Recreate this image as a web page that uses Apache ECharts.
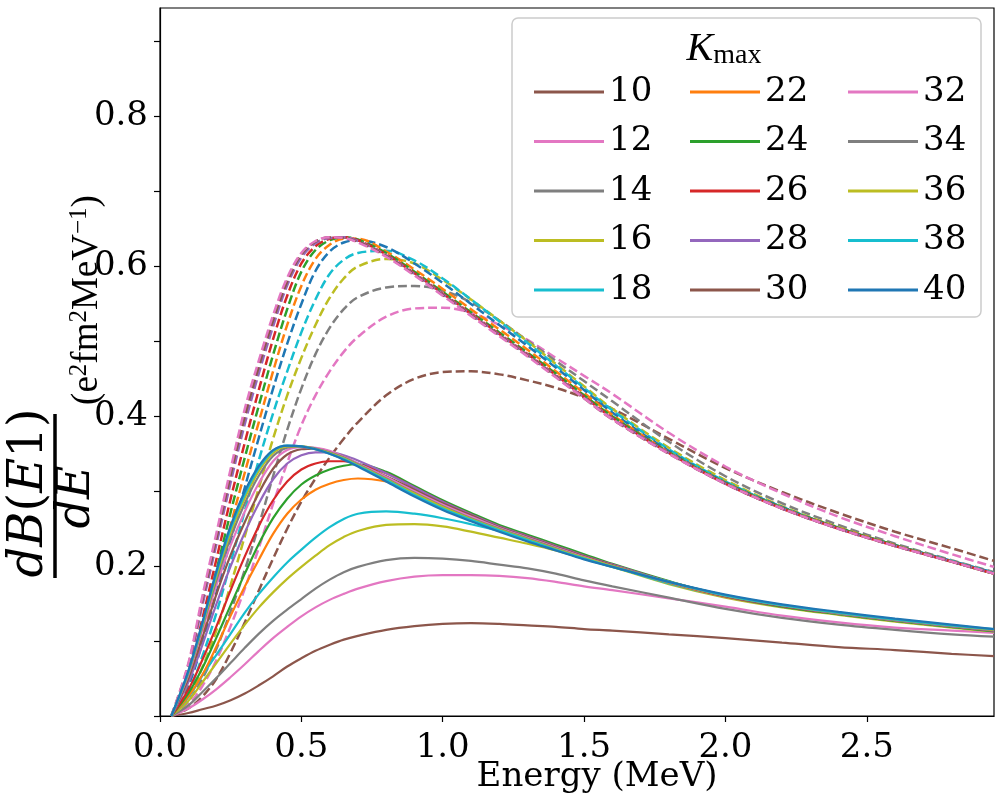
<!DOCTYPE html>
<html>
<head>
<meta charset="utf-8">
<script src="https://cdn.jsdelivr.net/npm/echarts@6/dist/echarts.min.js"></script>
<style>
html,body{margin:0;padding:0;background:#fff;}
#chart{width:997px;height:796px;}
</style>
</head>
<body>
<div id="chart"></div>
<script>
// ---------- data ----------
const energy = [0.04, 0.1, 0.15, 0.2, 0.25, 0.3, 0.35, 0.4, 0.45, 0.5, 0.55, 0.6, 0.65, 0.7, 0.8, 0.9, 1.0, 1.1, 1.2, 1.3, 1.4, 1.5, 1.6, 1.8, 2.0, 2.2, 2.4, 2.6, 2.8, 2.95];

// solid curves (legend entries)
const solid10 = [0, 0.004, 0.009, 0.014, 0.021, 0.030, 0.041, 0.053, 0.066, 0.077, 0.087, 0.095, 0.102, 0.107, 0.115, 0.120, 0.123, 0.124, 0.123, 0.121, 0.119, 0.116, 0.114, 0.109, 0.104, 0.098, 0.092, 0.088, 0.083, 0.080];
const solid12 = [0, 0.010, 0.022, 0.036, 0.052, 0.069, 0.087, 0.104, 0.119, 0.133, 0.145, 0.155, 0.163, 0.170, 0.180, 0.186, 0.188, 0.188, 0.187, 0.184, 0.179, 0.173, 0.168, 0.157, 0.146, 0.134, 0.125, 0.118, 0.114, 0.111];
const solid14 = [0, 0.014, 0.032, 0.051, 0.071, 0.091, 0.110, 0.127, 0.142, 0.156, 0.170, 0.182, 0.192, 0.199, 0.208, 0.211, 0.210, 0.207, 0.202, 0.197, 0.190, 0.181, 0.173, 0.158, 0.143, 0.131, 0.122, 0.115, 0.109, 0.106];
const solid16 = [0, 0.020, 0.045, 0.071, 0.097, 0.122, 0.145, 0.165, 0.183, 0.199, 0.214, 0.228, 0.239, 0.247, 0.255, 0.256, 0.253, 0.246, 0.238, 0.230, 0.221, 0.210, 0.199, 0.176, 0.158, 0.145, 0.135, 0.126, 0.118, 0.113];
const solid18 = [0, 0.025, 0.054, 0.082, 0.110, 0.138, 0.163, 0.185, 0.205, 0.222, 0.238, 0.252, 0.263, 0.270, 0.273, 0.270, 0.264, 0.256, 0.247, 0.237, 0.226, 0.213, 0.200, 0.177, 0.159, 0.146, 0.136, 0.127, 0.119, 0.114];
const solid22 = [0, 0.026, 0.055, 0.093, 0.134, 0.173, 0.209, 0.243, 0.270, 0.289, 0.302, 0.310, 0.315, 0.317, 0.313, 0.302, 0.285, 0.268, 0.252, 0.239, 0.226, 0.213, 0.201, 0.178, 0.159, 0.146, 0.136, 0.127, 0.119, 0.114];
const solid24 = [0, 0.030, 0.064, 0.105, 0.148, 0.190, 0.230, 0.264, 0.290, 0.309, 0.321, 0.329, 0.334, 0.336, 0.326, 0.307, 0.288, 0.271, 0.255, 0.242, 0.229, 0.216, 0.203, 0.180, 0.160, 0.146, 0.136, 0.127, 0.119, 0.113];
const solid26 = [0, 0.035, 0.075, 0.120, 0.168, 0.213, 0.254, 0.288, 0.313, 0.329, 0.337, 0.340, 0.340, 0.336, 0.324, 0.305, 0.286, 0.269, 0.253, 0.240, 0.227, 0.214, 0.202, 0.179, 0.160, 0.147, 0.137, 0.128, 0.120, 0.114];
const solid28 = [0, 0.045, 0.095, 0.150, 0.200, 0.245, 0.284, 0.316, 0.337, 0.348, 0.352, 0.352, 0.348, 0.341, 0.324, 0.305, 0.286, 0.269, 0.253, 0.240, 0.227, 0.214, 0.202, 0.179, 0.160, 0.147, 0.137, 0.128, 0.120, 0.114];
const solid30 = [0, 0.050, 0.105, 0.163, 0.215, 0.259, 0.298, 0.330, 0.349, 0.356, 0.357, 0.353, 0.346, 0.337, 0.320, 0.302, 0.284, 0.268, 0.252, 0.239, 0.226, 0.213, 0.201, 0.179, 0.160, 0.147, 0.137, 0.128, 0.120, 0.115];
const solid32 = [0, 0.055, 0.115, 0.175, 0.228, 0.273, 0.311, 0.340, 0.355, 0.359, 0.358, 0.354, 0.346, 0.337, 0.319, 0.300, 0.282, 0.266, 0.251, 0.238, 0.225, 0.212, 0.200, 0.179, 0.161, 0.148, 0.137, 0.128, 0.120, 0.115];
const solid34 = [0, 0.057, 0.119, 0.182, 0.238, 0.284, 0.321, 0.347, 0.358, 0.360, 0.357, 0.352, 0.345, 0.336, 0.317, 0.298, 0.280, 0.264, 0.250, 0.237, 0.224, 0.211, 0.200, 0.179, 0.161, 0.148, 0.137, 0.128, 0.120, 0.115];
const solid36 = [0, 0.058, 0.121, 0.187, 0.245, 0.291, 0.327, 0.351, 0.360, 0.360, 0.356, 0.351, 0.344, 0.335, 0.316, 0.297, 0.279, 0.263, 0.249, 0.236, 0.223, 0.211, 0.200, 0.179, 0.161, 0.148, 0.138, 0.129, 0.121, 0.115];
const solid38 = [0, 0.059, 0.123, 0.191, 0.250, 0.296, 0.331, 0.354, 0.361, 0.360, 0.356, 0.350, 0.343, 0.334, 0.315, 0.295, 0.277, 0.262, 0.248, 0.235, 0.222, 0.210, 0.199, 0.179, 0.161, 0.148, 0.138, 0.129, 0.121, 0.116];
const solid40 = [0, 0.060, 0.125, 0.194, 0.254, 0.300, 0.334, 0.355, 0.361, 0.360, 0.356, 0.350, 0.342, 0.333, 0.313, 0.293, 0.275, 0.260, 0.246, 0.233, 0.221, 0.209, 0.199, 0.179, 0.162, 0.149, 0.139, 0.130, 0.122, 0.116];

// dashed curves (no legend entries)
const dashed10 = [0, 0.010, 0.026, 0.050, 0.085, 0.125, 0.168, 0.210, 0.250, 0.286, 0.317, 0.345, 0.370, 0.392, 0.428, 0.450, 0.459, 0.460, 0.456, 0.448, 0.438, 0.425, 0.410, 0.370, 0.331, 0.299, 0.271, 0.246, 0.224, 0.207];
const dashed12 = [0, 0.015, 0.040, 0.075, 0.120, 0.170, 0.225, 0.283, 0.338, 0.388, 0.428, 0.460, 0.486, 0.506, 0.533, 0.544, 0.545, 0.538, 0.522, 0.502, 0.478, 0.454, 0.430, 0.378, 0.333, 0.297, 0.266, 0.240, 0.216, 0.199];
const dashed14 = [0, 0.020, 0.050, 0.090, 0.140, 0.195, 0.255, 0.320, 0.382, 0.437, 0.483, 0.518, 0.543, 0.559, 0.572, 0.574, 0.568, 0.552, 0.528, 0.501, 0.474, 0.447, 0.420, 0.366, 0.320, 0.284, 0.255, 0.230, 0.208, 0.192];
const dashed16 = [0, 0.026, 0.065, 0.115, 0.175, 0.240, 0.305, 0.370, 0.428, 0.478, 0.522, 0.558, 0.584, 0.600, 0.610, 0.604, 0.582, 0.556, 0.528, 0.500, 0.470, 0.440, 0.410, 0.358, 0.315, 0.280, 0.252, 0.228, 0.207, 0.191];
const dashed18 = [0, 0.032, 0.080, 0.138, 0.205, 0.274, 0.342, 0.404, 0.460, 0.512, 0.556, 0.590, 0.609, 0.618, 0.621, 0.608, 0.584, 0.556, 0.527, 0.498, 0.468, 0.438, 0.408, 0.356, 0.313, 0.279, 0.251, 0.228, 0.207, 0.191];
const dashed20 = [0, 0.040, 0.098, 0.165, 0.235, 0.305, 0.372, 0.437, 0.497, 0.550, 0.594, 0.620, 0.632, 0.635, 0.626, 0.604, 0.578, 0.550, 0.522, 0.494, 0.465, 0.435, 0.405, 0.354, 0.312, 0.279, 0.251, 0.228, 0.207, 0.191];
const dashed22 = [0, 0.045, 0.108, 0.180, 0.255, 0.325, 0.393, 0.460, 0.522, 0.574, 0.610, 0.629, 0.637, 0.637, 0.620, 0.596, 0.570, 0.543, 0.516, 0.489, 0.460, 0.431, 0.402, 0.352, 0.311, 0.278, 0.251, 0.228, 0.206, 0.190];
const dashed24 = [0, 0.050, 0.120, 0.195, 0.272, 0.345, 0.415, 0.482, 0.543, 0.593, 0.622, 0.635, 0.639, 0.636, 0.618, 0.593, 0.566, 0.539, 0.512, 0.485, 0.457, 0.428, 0.400, 0.352, 0.311, 0.278, 0.251, 0.228, 0.206, 0.190];
const dashed26 = [0, 0.055, 0.130, 0.210, 0.290, 0.365, 0.436, 0.503, 0.561, 0.604, 0.627, 0.637, 0.639, 0.635, 0.616, 0.591, 0.564, 0.537, 0.510, 0.483, 0.455, 0.426, 0.398, 0.351, 0.310, 0.277, 0.250, 0.227, 0.206, 0.190];
const dashed28 = [0, 0.065, 0.148, 0.230, 0.312, 0.390, 0.458, 0.520, 0.575, 0.612, 0.631, 0.638, 0.639, 0.634, 0.615, 0.590, 0.563, 0.536, 0.509, 0.482, 0.454, 0.425, 0.397, 0.351, 0.310, 0.277, 0.250, 0.227, 0.206, 0.190];
const dashed30 = [0, 0.068, 0.155, 0.238, 0.322, 0.400, 0.467, 0.528, 0.580, 0.616, 0.633, 0.639, 0.638, 0.633, 0.614, 0.589, 0.562, 0.535, 0.508, 0.481, 0.453, 0.424, 0.396, 0.350, 0.310, 0.277, 0.250, 0.227, 0.206, 0.190];
const dashed32 = [0, 0.070, 0.160, 0.245, 0.330, 0.410, 0.475, 0.535, 0.585, 0.618, 0.634, 0.639, 0.638, 0.632, 0.613, 0.588, 0.561, 0.534, 0.507, 0.480, 0.452, 0.424, 0.396, 0.350, 0.310, 0.277, 0.250, 0.227, 0.206, 0.190];

const kmaxValues = ['10','12','14','16','18','20','22','24','26','28','30','32','34','36','38','40'];
const solidByK = {'10':solid10,'12':solid12,'14':solid14,'16':solid16,'18':solid18,'22':solid22,'24':solid24,'26':solid26,'28':solid28,'30':solid30,'32':solid32,'34':solid34,'36':solid36,'38':solid38,'40':solid40};
const dashedByK = {'10':dashed10,'12':dashed12,'14':dashed14,'16':dashed16,'18':dashed18,'20':dashed20,'22':dashed22,'24':dashed24,'26':dashed26,'28':dashed28,'30':dashed30,'32':dashed32};

const legendCol1 = ['10','12','14','16','18'];
const legendCol2 = ['22','24','26','28','30'];
const legendCol3 = ['32','34','36','38','40'];

const xTickValues = [0, 0.5, 1.0, 1.5, 2.0, 2.5];
const yTickValues = [0, 0.1, 0.2, 0.3, 0.4, 0.5, 0.6, 0.7, 0.8, 0.9];
const yLabelValues = [0.2, 0.4, 0.6, 0.8];

// ---------- styles ----------
const palette = {'10':'#8c564b','12':'#e377c2','14':'#7f7f7f','16':'#bcbd22','18':'#17becf','20':'#1f77b4','22':'#ff7f0e','24':'#2ca02c','26':'#d62728','28':'#9467bd','30':'#8c564b','32':'#e377c2','34':'#7f7f7f','36':'#bcbd22','38':'#17becf','40':'#1f77b4'};
const SERIF = '"DejaVu Serif", serif';
const MATH = '"DejaVu Serif", serif';
const UNITS = '"Liberation Serif", serif';

const series = [];
kmaxValues.forEach(k => {
  if (solidByK[k]) {
    series.push({
      name: k, type: 'line', symbol: 'none', smooth: 0.35,
      data: energy.map((e, i) => [e, solidByK[k][i]]),
      lineStyle: {color: palette[k], width: 2.2}, itemStyle: {color: palette[k]},
      emphasis: {disabled: true}, silent: true
    });
  }
  if (dashedByK[k]) {
    series.push({
      name: k + ' (dashed)', type: 'line', symbol: 'none', smooth: 0.35,
      data: energy.map((e, i) => [e, dashedByK[k][i]]),
      lineStyle: {color: palette[k], width: 2.5, type: [9, 4]}, itemStyle: {color: palette[k]},
      emphasis: {disabled: true}, silent: true
    });
  }
});

function legendCol(data, left) {
  return {
    data: data, left: left, top: 70, orient: 'vertical',
    icon: 'rect', itemWidth: 70, itemHeight: 3, itemGap: 15.5, selectedMode: false,
    textStyle: {fontFamily: SERIF, fontSize: 34, color: '#000', lineHeight: 30},
    z: 20
  };
}

const chart = echarts.init(document.getElementById('chart'), null, {renderer: 'canvas'});
chart.setOption({
  animation: false,
  backgroundColor: '#fff',
  grid: {left: 160, top: 8, width: 834, height: 708, show: true, borderColor: '#000', borderWidth: 1.2},
  xAxis: {
    type: 'value', min: 0, max: 2.95,
    splitLine: {show: false},
    axisLine: {show: true, onZero: false, lineStyle: {color: '#000', width: 1.2}},
    axisTick: {show: true, length: 6, lineStyle: {color: '#000', width: 1.2}, customValues: xTickValues},
    axisLabel: {customValues: xTickValues, formatter: v => v.toFixed(1), fontFamily: SERIF, fontSize: 34, color: '#000', margin: 15}
  },
  yAxis: {
    type: 'value', min: 0, max: 0.945,
    splitLine: {show: false},
    axisLine: {show: true, onZero: false, lineStyle: {color: '#000', width: 1.2}},
    axisTick: {show: true, length: 6, lineStyle: {color: '#000', width: 1.2}, customValues: yTickValues},
    axisLabel: {customValues: yLabelValues, formatter: v => v.toFixed(1), fontFamily: SERIF, fontSize: 34, color: '#000', margin: 12}
  },
  legend: [legendCol(legendCol1, 529), legendCol(legendCol2, 685), legendCol(legendCol3, 843)],
  graphic: [
    {type: 'rect', z: 10, shape: {x: 512, y: 18, width: 469, height: 299, r: 6},
     style: {fill: 'rgba(255,255,255,0.85)', stroke: '#cccccc', lineWidth: 1.5}},
    {type: 'text', z: 11, x: 724, y: 49, style: {
      text: '{k|K}{m|max}', align: 'center', verticalAlign: 'middle',
      rich: {k: {fontFamily: UNITS, fontStyle: 'italic', fontSize: 40, fill: '#000'},
             m: {fontFamily: UNITS, fontSize: 28, fill: '#000', verticalAlign: 'bottom', padding: [14, 0, 0, 0]}}}},
    // x axis name
    {type: 'text', x: 597, y: 777, style: {text: 'Energy (MeV)', font: '34px ' + SERIF, fill: '#000', align: 'center', verticalAlign: 'middle'}},
    // y axis name: dB(E1)/dE (e^2 fm^2 MeV^-1)
    {type: 'text', x: 30, y: 493, rotation: Math.PI / 2, style: {
      text: '{i|dB}{r|(}{i|E}{r|1)}', align: 'center', verticalAlign: 'middle',
      rich: {i: {fontFamily: MATH, fontStyle: 'italic', fontSize: 48, fill: '#000'},
             r: {fontFamily: MATH, fontSize: 48, fill: '#000'}}}},
    {type: 'line', shape: {x1: 55, y1: 414, x2: 55, y2: 578}, style: {stroke: '#000', lineWidth: 3.5}},
    {type: 'text', x: 77, y: 497, rotation: Math.PI / 2, style: {
      text: '{i|dE}', align: 'center', verticalAlign: 'middle',
      rich: {i: {fontFamily: MATH, fontStyle: 'italic', fontSize: 46, fill: '#000'}}}},
    {type: 'text', x: 87, y: 300, rotation: Math.PI / 2, style: {
      text: '{r|(e}{s|2}{r|fm}{s|2}{r|MeV}{s|−1}{r|)}', align: 'center', verticalAlign: 'middle',
      rich: {r: {fontFamily: UNITS, fontSize: 37, fill: '#000', lineHeight: 40},
             s: {fontFamily: UNITS, fontSize: 25, fill: '#000', verticalAlign: 'top', lineHeight: 40}}}}
  ],
  series: series
});
</script>
</body>
</html>
